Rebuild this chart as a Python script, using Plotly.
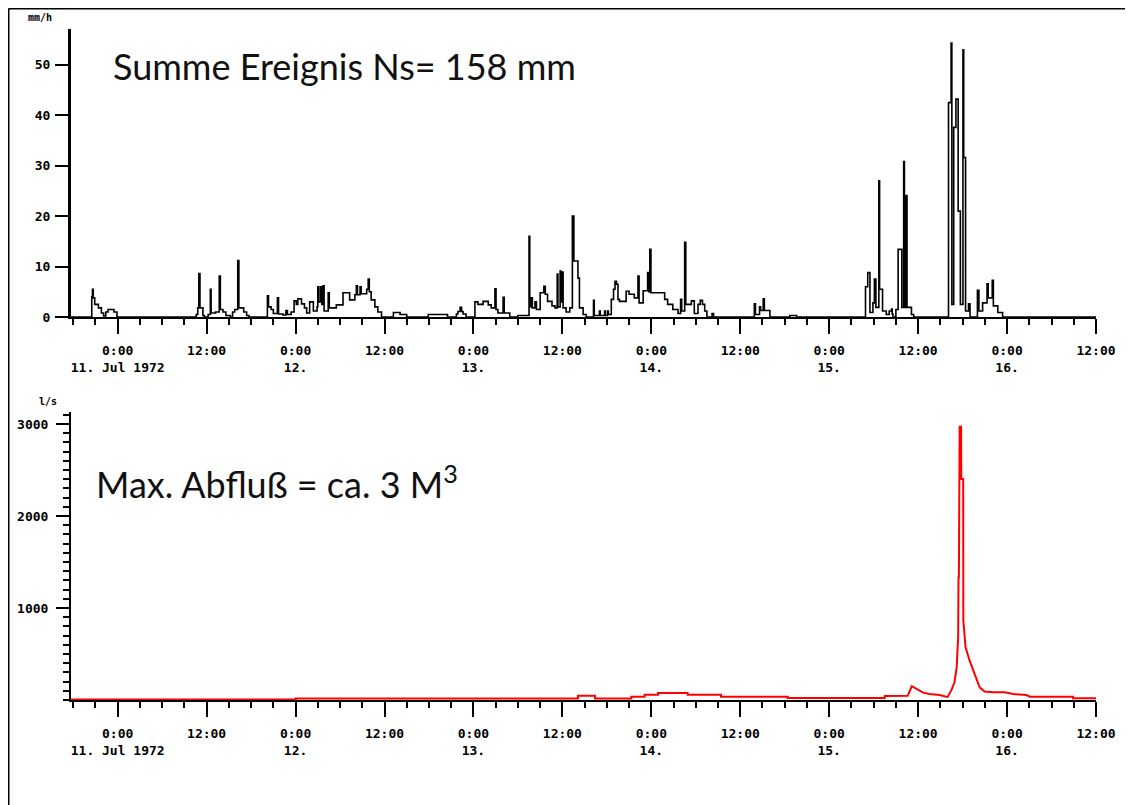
import pandas as pd
import plotly.graph_objects as go

# page is shown with an 8 px body margin; figure sized to fill the rest
OFF = 8
W, H = 1133 - OFF, 805 - OFF
BASE = pd.Timestamp("1972-07-11 00:00")

# --- Niederschlag (mm/h), step series: hours since 11 Jul 1972 0:00 -> value
rain_h = [-6.3,
          -3.5, -3.4, -3.3, -3.1, -2.6, -2.2, -1.9, -1.6, -1.3, -0.5, -0.1,
          10.6, 10.8, 10.95, 11.1, 11.5, 11.7, 12.2, 12.5, 12.6, 13.2, 13.7, 13.85,
          14.2, 14.6, 15.2, 15.5, 15.8, 16.2, 16.35, 17.0, 17.4, 17.7,
          20.2, 20.35, 20.7, 21.0, 21.55, 21.7, 22.3, 22.7, 22.9, 23.4, 23.8, 24.1,
          24.3, 24.8, 25.2, 25.5, 25.9, 26.4, 26.9, 27.0, 27.15, 27.4, 27.55, 27.7,
          27.85, 28.4, 28.55, 29.5, 30.4, 31.3, 32.0, 32.2, 32.35, 32.7, 32.85,
          33.6, 33.8, 33.95, 34.2, 34.7, 35.1, 35.6,
          37.2, 38.1, 39.0, 41.9, 44.5,
          45.7, 45.9, 46.2, 46.4, 46.6, 47.0, 48.2, 48.6, 49.3, 50.0, 50.4, 50.9,
          51.05, 51.3, 52.0, 52.15, 52.9, 54.0, 55.5, 55.6, 55.8, 55.95, 56.3, 56.5,
          57.0, 57.5, 57.7, 58.0, 58.6, 59.0, 59.3, 59.4, 59.7, 59.8, 59.95, 60.1,
          60.5, 61.0, 61.35, 61.55, 62.1, 62.3, 62.8, 63.2, 64.2, 64.3, 65.0, 65.1,
          65.7, 65.8, 66.1, 66.2, 66.6, 66.9, 67.1, 67.3, 67.5, 67.7, 68.6, 69.0,
          69.7, 70.2, 70.35, 70.9, 71.5, 71.65, 71.8, 71.95, 73.8, 74.2, 74.9, 75.6,
          75.95, 76.1, 76.5, 76.65, 77.4, 77.8, 78.3, 78.6, 78.9, 79.2, 79.5, 80.2,
          80.4,
          85.9, 86.05, 86.6, 86.75, 87.1, 87.25, 88.0, 90.7, 91.6,
          100.9, 101.2, 101.5, 101.9, 102.1, 102.3, 102.7, 102.8, 103.2, 103.7,
          104.1, 104.4, 104.5, 104.6, 105.0, 105.3, 105.8, 106.05, 106.15, 106.3,
          106.5, 107.1, 107.4,
          112.1, 112.45, 112.55, 112.8, 113.1, 113.4, 113.7, 114.05, 114.15, 114.4,
          114.8, 115.0, 116.0, 116.2, 116.7, 117.3, 117.45, 118.0, 118.15, 118.75,
          119.4, 132.0]
rain_mm = [0,
           4.0, 5.5, 3.8, 2.5, 1.8, 0.8, 0.2, 1.0, 1.5, 1.0, 0,
           0.5, 1.8, 8.6, 1.8, 0.3, 0, 0.5, 5.5, 0.8, 1.0, 8.1, 1.5,
           1.0, 0.3, 0, 1.0, 1.5, 11.2, 1.8, 1.0, 0.3, 0,
           4.2, 2.0, 1.5, 0.7, 3.8, 0.6, 0.4, 1.3, 0.5, 1.0, 3.2, 2.5,
           3.6, 2.6, 1.8, 0.8, 3.0, 1.2, 2.0, 6.0, 3.0, 6.0, 2.5, 6.2,
           1.2, 4.8, 1.8, 2.4, 4.8, 3.4, 4.4, 6.2, 4.4, 6.0, 4.6,
           5.5, 7.5, 5.0, 3.4, 2.0, 1.0, 0,
           0.9, 0.5, 0, 0.5, 0,
           0.6, 1.1, 1.9, 1.1, 0.6, 0, 3.0, 2.5, 3.1, 2.4, 1.8, 5.6,
           1.5, 0.8, 3.9, 0.8, 0, 0.3, 16.0, 2.0, 3.8, 1.8, 3.0, 1.5,
           4.8, 6.1, 4.5, 3.1, 2.2, 1.8, 8.5, 2.0, 9.1, 3.0, 8.9, 1.8,
           1.0, 1.8, 20.0, 11.1, 7.7, 1.8, 0.5, 0, 3.3, 0.3, 1.2, 0.3,
           1.2, 0.3, 1.2, 0.5, 3.5, 5.5, 7.1, 6.5, 3.5, 3.1, 5.1, 4.5,
           3.8, 8.1, 2.8, 5.2, 8.8, 5.0, 13.4, 4.8, 3.5, 2.5, 1.5, 0.7,
           3.5, 1.2, 14.8, 2.5, 3.2, 0.7, 2.5, 3.3, 2.5, 1.2, 0, 0.7,
           0,
           2.6, 0.5, 2.0, 1.3, 3.6, 1.3, 0, 0.3, 0,
           6.0, 8.8, 0.9, 2.8, 7.5, 1.9, 27.0, 5.5, 1.2, 0.5,
           1.2, 1.6, 0.6, 0, 1.5, 13.4, 1.9, 30.8, 1.9, 24.1,
           1.9, 0.5, 0,
           42.5, 54.3, 2.5, 37.6, 43.2, 21.0, 2.5, 53.0, 31.6, 1.2,
           2.6, 0, 5.3, 1.2, 2.8, 6.6, 3.8, 7.3, 2.2, 0.9,
           0, 0]

# --- Abfluss (l/s): hours -> value
flow_h = [-6.3, 24.0, 24.0, 62.1, 62.1, 64.4, 64.4, 69.3, 69.3, 71.1, 71.1, 72.9,
          72.9, 76.9, 76.9, 81.4, 81.4, 90.4, 90.4, 103.5, 103.5, 106.6, 107.15,
          108.6, 109.5, 110.9, 111.8, 112.0, 112.5, 112.9, 113.2, 113.4, 113.45,
          113.5, 113.6, 113.8, 113.82, 114.08, 114.1, 114.4, 114.95, 115.6, 116.3,
          116.95, 118.1, 119.7, 120.8, 122.6, 123.1, 128.9, 128.9, 132.0]
flow_ls = [5, 5, 15, 15, 47, 47, 15, 15, 35, 35, 57, 57,
           76, 76, 57, 57, 35, 35, 22, 22, 43, 47, 150,
           83, 65, 54, 36, 36, 110, 190, 354, 680, 1333,
           1333, 2970, 2970, 2402, 2402, 862, 572, 427, 283, 137,
           93, 83, 83, 65, 54, 36, 36, 18, 18]

# --- axis ticks
x_range_h = [-6.3, 132.0]
tick_h = [0, 12, 24, 36, 48, 60, 72, 84, 96, 108, 120, 132]
tick_text = ["0:00<br>11. Jul 1972", "12:00", "0:00<br>12.", "12:00", "0:00<br>13.",
             "12:00", "0:00<br>14.", "12:00", "0:00<br>15.", "12:00", "0:00<br>16.",
             "12:00"]
rain_ticks = [0, 10, 20, 30, 40, 50]
flow_ticks = [1000, 2000, 3000]


def px(x):
    return (x - OFF) / W


def py(y):
    return 1 - (y - OFF) / H


def to_time(hours):
    return BASE + pd.to_timedelta(pd.Series(hours, dtype=float), unit="h")


fig = go.Figure()
fig.add_trace(go.Scatter(x=to_time(rain_h), y=rain_mm, mode="lines",
                         line=dict(color="black", width=1.6, shape="hv"),
                         xaxis="x", yaxis="y", showlegend=False))
fig.add_trace(go.Scatter(x=to_time(flow_h), y=flow_ls, mode="lines",
                         line=dict(color="#ff0000", width=2),
                         xaxis="x2", yaxis="y2", showlegend=False))

tickfont = dict(family="DejaVu Sans Mono", size=13, color="black", weight="bold")
xr = [BASE + pd.Timedelta(hours=h) for h in x_range_h]
tv = [BASE + pd.Timedelta(hours=h) for h in tick_h]
xdom = [px(71), px(1096)]


def xaxis_common(anchor):
    return dict(domain=xdom, range=xr, type="date", anchor=anchor,
                tickmode="array", tickvals=tv, ticktext=tick_text,
                ticks="outside", ticklen=15, tickwidth=2, tickcolor="black",
                ticklabelstandoff=5,
                showline=True, linecolor="black", linewidth=2,
                showgrid=False, zeroline=False, tickfont=tickfont,
                automargin=False, fixedrange=True,
                minor=dict(ticks="outside", ticklen=6, tickwidth=2,
                           tickcolor="black", dtick=3 * 3600 * 1000,
                           tick0=BASE, showgrid=False))


fig.update_layout(
    width=W, height=H, template="none",
    paper_bgcolor="white", plot_bgcolor="white",
    margin=dict(l=0, r=0, t=0, b=0),
    xaxis=xaxis_common("y"),
    xaxis2=xaxis_common("y2"),
    yaxis=dict(domain=[py(317), py(29)], range=[0, 57.1], anchor="x",
               tickmode="array", tickvals=rain_ticks, ticks="outside", ticklen=13,
               tickwidth=2, tickcolor="black", showline=True, linecolor="black",
               linewidth=3, showgrid=False, zeroline=False, tickfont=tickfont,
               ticklabelstandoff=2, automargin=False),
    yaxis2=dict(domain=[py(700), py(412)], range=[0, 3130], anchor="x2",
                tickmode="array", tickvals=flow_ticks, ticks="outside", ticklen=13,
                tickwidth=2, tickcolor="black", showline=True, linecolor="black",
                linewidth=2, showgrid=False, zeroline=False, tickfont=tickfont,
                ticklabelstandoff=5, automargin=False,
                minor=dict(ticks="outside", ticklen=6, tickwidth=2,
                           tickcolor="black", dtick=100, tick0=0, showgrid=False)),
    annotations=[
        dict(text="Summe Ereignis Ns= 158 mm", xref="paper", yref="paper",
             x=px(111), y=py(66), xanchor="left", yanchor="middle",
             showarrow=False, font=dict(family="Lato", size=36, color="#111")),
        dict(text="Max. Abfluß = ca. 3 M<sup>3</sup>", xref="paper", yref="paper",
             x=px(94), y=py(482), xanchor="left", yanchor="middle",
             showarrow=False, font=dict(family="Lato", size=36, color="#111")),
        dict(text="mm/h", xref="paper", yref="paper", x=px(40), y=py(17),
             xanchor="center", yanchor="middle", showarrow=False,
             font=dict(family="DejaVu Sans Mono", size=10, color="black",
                       weight="bold")),
        dict(text="l/s", xref="paper", yref="paper", x=px(48), y=py(401),
             xanchor="center", yanchor="middle", showarrow=False,
             font=dict(family="DejaVu Sans Mono", size=10, color="black",
                       weight="bold")),
    ],
    shapes=[
        dict(type="line", xref="paper", yref="paper", x0=0.5 / W, x1=1.0,
             y0=1 - 0.5 / H, y1=1 - 0.5 / H, line=dict(color="black", width=2)),
        dict(type="line", xref="paper", yref="paper", x0=0.5 / W, x1=0.5 / W,
             y0=1 - 0.5 / H, y1=0, line=dict(color="black", width=2)),
    ],
)

fig.write_html("out.html")
